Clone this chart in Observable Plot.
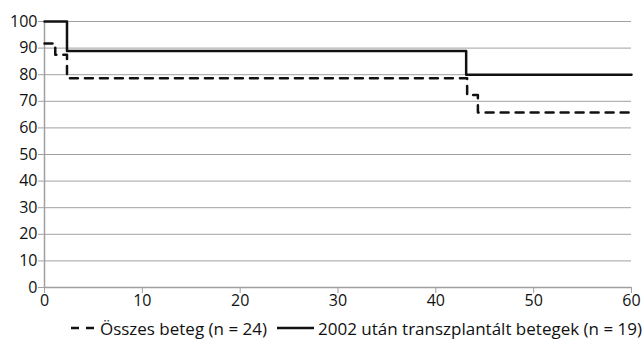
<!DOCTYPE html>
<html><head><meta charset="utf-8">
<script src="https://cdn.jsdelivr.net/npm/d3@7"></script>
<script src="https://cdn.jsdelivr.net/npm/@observablehq/plot@0.6"></script>
<style>
body{margin:0;background:#fff;font-family:"Open Sans",sans-serif;}
#legend{display:flex;justify-content:flex-end;align-items:center;font-size:17px;color:#111;height:32px;padding-right:2px;gap:10px;}
#legend span.item{display:flex;align-items:center;gap:4px;}
</style></head><body>
<div id="chart"></div>
<div id="legend"></div>
<script>
const allLabel = "Összes beteg (n = 24)";
const allTimes = [0, 1.1, 2.3, 43.2, 44.3, 60];
const allValues = [91.7, 87.5, 78.7, 72.4, 65.8, 65.8];
const postLabel = "2002 után transzplantált betegek (n = 19)";
const postTimes = [0, 2.3, 43.1, 60];
const postValues = [100, 88.9, 80, 80];
const yTicks = [0,10,20,30,40,50,60,70,80,90,100];
const xTicks = [0,10,20,30,40,50,60];

const allData = allTimes.map((t,i)=>({t, v: allValues[i]}));
const postData = postTimes.map((t,i)=>({t, v: postValues[i]}));

const chart = Plot.plot({
  width: 644, height: 312,
  marginLeft: 44, marginRight: 13, marginTop: 21, marginBottom: 25,
  style: {fontFamily: "'Open Sans', sans-serif", fontSize: "16px", color: "#111", background: "#fff"},
  x: {domain: [0, 60], ticks: xTicks},
  y: {domain: [0, 100], ticks: yTicks},
  marks: [
    Plot.ruleY(yTicks.filter(d=>d>0), {stroke: "#a0a0a0", strokeWidth: 1}),
    Plot.ruleX([0], {stroke: "#a0a0a0", strokeWidth: 1.5}),
    Plot.ruleY([0], {stroke: "#a0a0a0", strokeWidth: 1.5}),
    Plot.axisY({ticks: yTicks, tickSize: 6, tickPadding: 1, stroke: "#a0a0a0", label: null, fontSize: 16}),
    Plot.axisX({ticks: xTicks, tickSize: 6, tickPadding: 1, stroke: "#a0a0a0", label: null, fontSize: 16}),
    Plot.line(allData, {x: "t", y: "v", curve: "step-after", stroke: "#111", strokeWidth: 2.5, strokeDasharray: "8,7"}),
    Plot.line(postData, {x: "t", y: "v", curve: "step-after", stroke: "#111", strokeWidth: 2.5})
  ]
});
document.getElementById("chart").appendChild(chart);

const lg = document.getElementById("legend");
lg.innerHTML = `<span class="item"><svg width="26" height="10"><line x1="1" y1="5" x2="26" y2="5" stroke="#111" stroke-width="2.5" stroke-dasharray="8,7"/></svg>${allLabel}</span>
<span class="item"><svg width="37" height="10"><line x1="0" y1="5" x2="37" y2="5" stroke="#111" stroke-width="2.5"/></svg>${postLabel}</span>`;
</script>
</body></html>
